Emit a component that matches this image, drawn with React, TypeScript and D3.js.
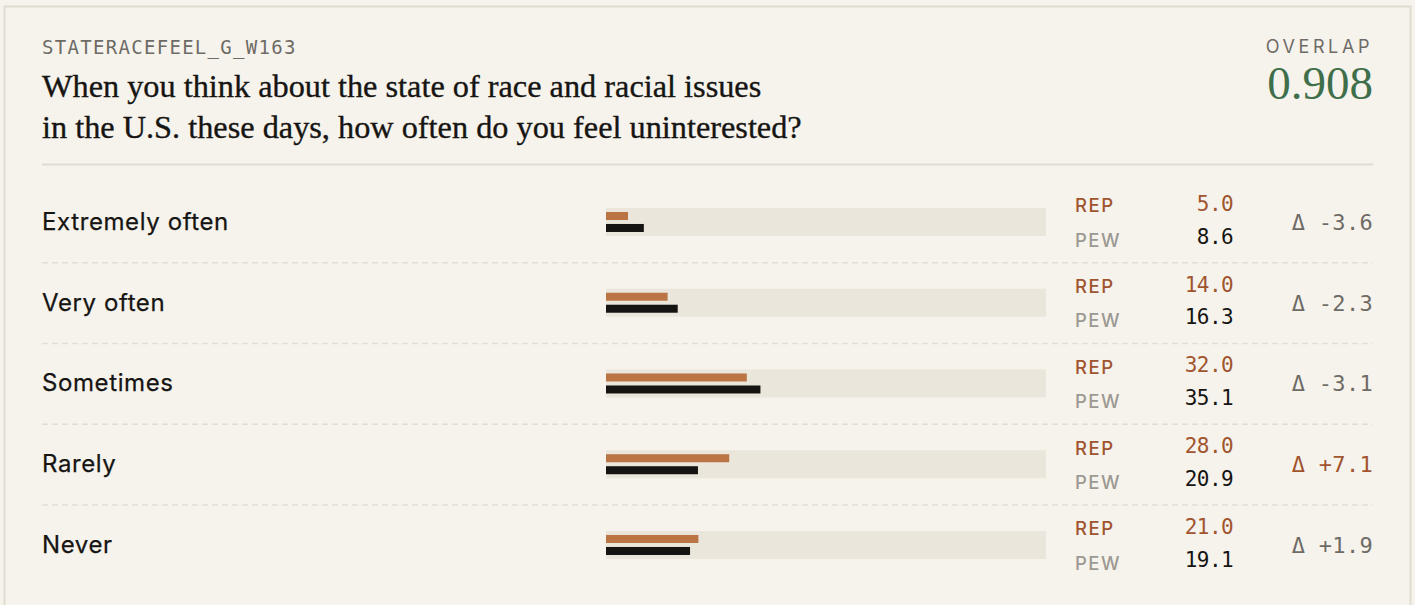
import React from "react";
import * as d3 from "d3";

const categories = ["Extremely often", "Very often", "Sometimes", "Rarely", "Never"];
const repValues = [5.0, 14.0, 32.0, 28.0, 21.0];
const pewValues = [8.6, 16.3, 35.1, 20.9, 19.1];
const questionCode = "STATERACEFEEL_G_W163";
const titleLines = [
  "When you think about the state of race and racial issues",
  "in the U.S. these days, how often do you feel uninterested?",
];
const overlapLabel = "OVERLAP";
const overlapValue = 0.908;

const W = 1415;
const H = 605;
const BG = "#f6f3ec";
const BORDER = "#e0dccf";
const TRACK = "#ebe6db";
const REP_BAR = "#bb7443";
const REP_TEXT = "#a0552f";
const PEW_BAR = "#151413";
const GRAY = "#6e6b66";
const LIGHT_GRAY = "#9c9992";
const GREEN = "#3f6e4b";
const SANS = "Inter, 'Noto Sans', sans-serif";
const MONO = "'DejaVu Sans Mono', monospace";
const SERIF = "'Liberation Serif', 'DejaVu Serif', serif";

export default function App() {
  const x = d3.scaleLinear().domain([0, 100]).range([606, 1046]);
  const y = d3.scaleBand<string>().domain(categories).range([181.6, 181.6 + 5 * 80.75]).padding(0);
  const fmt = d3.format(".1f");
  const fmtDelta = (d: number) => (d >= 0 ? "+" : "-") + fmt(Math.abs(d));

  return (
    <svg
      width={W}
      height={H}
      style={{ position: "absolute", left: 0, top: 0, background: BG, display: "block" }}
    >
      <rect x={0} y={0} width={W} height={H} fill={BG} />
      <rect x={4.5} y={6.5} width={1406} height={640} fill={BG} stroke={BORDER} strokeWidth={2} />

      <text x={42} y={54} fontFamily={MONO} fontSize={19} letterSpacing={1.3} fill={GRAY}>
        {questionCode}
      </text>
      {titleLines.map((t, i) => (
        <text
          key={i}
          x={42}
          y={97 + i * 41}
          fontFamily={SERIF}
          fontSize={32.3}
          fill="#161513"
          stroke="#161513"
          strokeWidth={0.35}
        >
          {t}
        </text>
      ))}
      <text x={1373} y={53} textAnchor="end" fontFamily={SANS} fontSize={18} letterSpacing={3.6} fill={GRAY}>
        {overlapLabel}
      </text>
      <text x={1373} y={99} textAnchor="end" fontFamily={SERIF} fontSize={47} fill={GREEN}>
        {d3.format(".3f")(overlapValue)}
      </text>

      <line x1={42} x2={1373} y1={164.5} y2={164.5} stroke={BORDER} strokeWidth={2} />

      {categories.map((cat, i) => {
        const c = (y(cat) as number) + y.bandwidth() / 2;
        const rep = repValues[i];
        const pew = pewValues[i];
        const delta = rep - pew;
        const big = Math.abs(delta) >= 5;
        return (
          <g key={cat}>
            {i > 0 && (
              <line
                x1={42}
                x2={1373}
                y1={(y(cat) as number) + 0.5}
                y2={(y(cat) as number) + 0.5}
                stroke="#e2ded3"
                strokeWidth={1.5}
                strokeDasharray="6 4"
              />
            )}
            <text x={42} y={c + 8} fontFamily={SANS} fontSize={24} letterSpacing={0.6} fill="#161513" stroke="#161513" strokeWidth={0.25}>
              {cat}
            </text>
            <rect x={x(0)} y={c - 14} width={x(100) - x(0)} height={28} fill={TRACK} />
            <rect x={x(0)} y={c - 10} width={x(rep) - x(0)} height={8} fill={REP_BAR} />
            <rect x={x(0)} y={c + 2} width={x(pew) - x(0)} height={8} fill={PEW_BAR} />

            <text x={1075} y={c - 9.7} fontFamily={SANS} fontSize={18.5} fontWeight={500} letterSpacing={1.5} fill={REP_TEXT}>
              REP
            </text>
            <text x={1075} y={c + 24.7} fontFamily={SANS} fontSize={18.5} fontWeight={500} letterSpacing={1.5} fill={LIGHT_GRAY}>
              PEW
            </text>
            <text x={1233} y={c - 11} textAnchor="end" fontFamily={MONO} fontSize={21} letterSpacing={-0.6} fill={REP_TEXT}>
              {fmt(rep)}
            </text>
            <text x={1233} y={c + 21.7} textAnchor="end" fontFamily={MONO} fontSize={21} letterSpacing={-0.6} fill="#161513">
              {fmt(pew)}
            </text>
            <text x={1373} y={c + 8} textAnchor="end" fontFamily={MONO} fontSize={22} letterSpacing={0.3} fill={big ? REP_TEXT : GRAY}>
              {"Δ " + fmtDelta(delta)}
            </text>
          </g>
        );
      })}
    </svg>
  );
}
